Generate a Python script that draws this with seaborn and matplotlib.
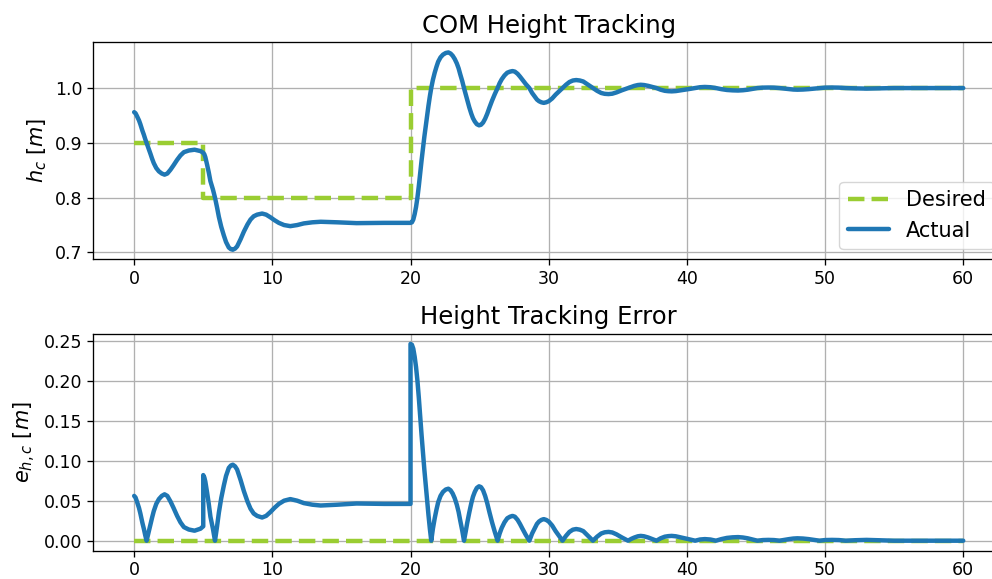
import numpy as np
import pandas as pd
import matplotlib
matplotlib.use("Agg")
import matplotlib.pyplot as plt
import seaborn as sns

# ---- data ----
time_a = [0.0, 0.1, 0.2, 0.35, 0.45, 0.6, 0.7, 0.8, 0.9, 1.05, 1.18, 1.3, 1.42, 1.6, 1.79,
          2.0, 2.2, 2.4, 2.63, 2.85, 3.11, 3.35, 3.6, 3.95, 4.37, 4.8, 5.0]
actual_a = [0.956, 0.954, 0.949, 0.941, 0.934, 0.922, 0.915, 0.907, 0.900, 0.889, 0.880, 0.871,
            0.863, 0.854, 0.848, 0.844, 0.842, 0.844, 0.851, 0.859, 0.869, 0.877, 0.883, 0.886,
            0.8875, 0.885, 0.882]

time_b = [5.0, 5.08, 5.15, 5.28, 5.4, 5.52, 5.7, 5.85, 6.0, 6.13, 6.3, 6.49, 6.65, 6.85, 7.0,
          7.14, 7.3, 7.45, 7.7, 7.94, 8.2, 8.42, 8.65, 8.9, 9.26, 9.55, 9.87, 10.15, 10.47,
          10.85, 11.3, 11.8, 12.28, 12.9, 13.5, 14.7, 16.1, 18.1, 20.0]
actual_b = [0.882, 0.879, 0.874, 0.860, 0.846, 0.830, 0.815, 0.800, 0.782, 0.765, 0.747, 0.731,
            0.719, 0.709, 0.706, 0.705, 0.707, 0.711, 0.724, 0.738, 0.751, 0.760, 0.766, 0.769,
            0.771, 0.769, 0.764, 0.759, 0.754, 0.750, 0.748, 0.750, 0.753, 0.755, 0.756, 0.755,
            0.7535, 0.754, 0.754]

time_c = [20.0, 20.1, 20.2, 20.3, 20.4, 20.5, 20.6, 20.7, 20.8, 20.9, 21.0, 21.1, 21.2, 21.3,
          21.4, 21.5, 21.62, 21.75, 21.88, 22.0, 22.17, 22.35, 22.55, 22.74, 22.9, 23.05, 23.2,
          23.35, 23.48, 23.6, 23.74, 23.87, 24.0, 24.1, 24.25, 24.4, 24.52, 24.65, 24.8, 24.96,
          25.1, 25.25, 25.4, 25.55, 25.72, 25.9, 26.1, 26.3, 26.45, 26.6, 26.8, 27.0, 27.2,
          27.38, 27.55, 27.75, 27.92, 28.1, 28.35, 28.6, 28.8, 29.0, 29.15, 29.3, 29.47, 29.64,
          29.82, 30.0, 30.25, 30.5, 30.75, 31.0, 31.25, 31.5, 31.75, 31.99, 32.25, 32.5, 32.85,
          33.2, 33.5, 33.8, 34.05, 34.33, 34.6, 34.9, 35.3, 35.74, 36.0, 36.2, 36.45, 36.66,
          36.9, 37.2, 37.5, 37.8, 38.1, 38.4, 38.65, 38.9, 39.2, 39.6, 40.1, 40.6, 40.95, 41.3,
          41.7, 42.1, 42.5, 42.9, 43.3, 43.7, 44.05, 44.4, 44.75, 45.1, 45.5, 45.9, 46.3, 46.7,
          47.05, 47.4, 47.7, 48.0, 48.4, 48.8, 49.2, 49.6, 50.0, 50.5, 51.0, 51.5, 52.2, 53.0,
          54.0, 55.0, 57.0, 60.0]
actual_c = [0.754, 0.755, 0.760, 0.770, 0.783, 0.800, 0.821, 0.845, 0.868, 0.890, 0.911, 0.930,
            0.950, 0.968, 0.985, 1.000, 1.015, 1.028, 1.039, 1.048, 1.056, 1.061, 1.064, 1.065,
            1.063, 1.059, 1.053, 1.045, 1.036, 1.025, 1.013, 1.000, 0.988, 0.978, 0.965, 0.953,
            0.945, 0.939, 0.934, 0.932, 0.933, 0.937, 0.944, 0.953, 0.965, 0.977, 0.989, 1.000,
            1.009, 1.016, 1.023, 1.028, 1.030, 1.031, 1.030, 1.026, 1.021, 1.015, 1.007, 1.000,
            0.991, 0.984, 0.979, 0.976, 0.974, 0.973, 0.974, 0.976, 0.981, 0.988, 0.994, 1.000,
            1.006, 1.011, 1.0138, 1.0146, 1.0138, 1.012, 1.006, 1.000, 0.995, 0.991, 0.9895, 0.989,
            0.9897, 0.992, 0.996, 1.000, 1.0025, 1.004, 1.0055, 1.006, 1.0055, 1.004, 1.002, 1.000,
            0.997, 0.995, 0.9943, 0.994, 0.9945, 0.996, 0.998, 1.000, 1.0015, 1.002, 1.0015, 1.000,
            0.998, 0.9965, 0.9958, 0.9955, 0.996, 0.997, 0.9985, 1.000, 1.0008, 1.001, 1.0008,
            1.000, 0.999, 0.998, 0.9973, 0.997, 0.9973, 0.998, 0.999, 1.000, 1.0008, 1.001, 1.0008,
            1.000, 0.9994, 0.999, 0.9995, 1.000, 1.000, 1.000]

desired_levels = [0.9, 0.8, 1.0]   # commanded height on each phase

time = time_a + time_b + time_c
actual = actual_a + actual_b + actual_c
desired = ([desired_levels[0]] * len(time_a) + [desired_levels[1]] * len(time_b)
           + [desired_levels[2]] * len(time_c))

df = pd.DataFrame({"t": time, "desired": desired, "actual": actual})
df["err"] = (df["actual"] - df["desired"]).abs()
df["err_des"] = 0.0

GREEN = "#9acd32"
BLUE = "#1f77b4"

plt.rcParams.update({
    "font.family": ["DejaVu Sans"],
    "axes.linewidth": 0.95,
    "xtick.major.width": 0.95,
    "ytick.major.width": 0.95,
    "xtick.major.size": 4.1,
    "ytick.major.size": 4.1,
    "xtick.labelsize": 12.5,
    "ytick.labelsize": 12.5,
    "lines.solid_capstyle": "round",
    "lines.solid_joinstyle": "round",
})

fig = plt.figure(figsize=(9.92, 5.79), dpi=100)
W, H = 992.0, 579.0
ax1 = fig.add_axes([92.7 / W, (H - 259.3) / H, 912 / W, 217 / H])
ax2 = fig.add_axes([92.7 / W, (H - 550.7) / H, 912 / W, 216.7 / H])

lw = 3.2
sns.lineplot(data=df, x="t", y="desired", ax=ax1, sort=False, estimator=None,
             color=GREEN, linewidth=lw, linestyle="--", label="Desired")
sns.lineplot(data=df, x="t", y="actual", ax=ax1, sort=False, estimator=None,
             color=BLUE, linewidth=lw, label="Actual")

sns.lineplot(data=df, x="t", y="err_des", ax=ax2, sort=False, estimator=None,
             color=GREEN, linewidth=lw, linestyle="--")
sns.lineplot(data=df, x="t", y="err", ax=ax2, sort=False, estimator=None,
             color=BLUE, linewidth=lw)

for ax in (ax1, ax2):
    ax.set_xlim(-3, 63)
    ax.set_xticks([0, 10, 20, 30, 40, 50, 60])
    ax.grid(True, color="#b0b0b0", linewidth=0.95)
    ax.set_axisbelow(True)
    ax.set_xlabel("")
    for s in ax.spines.values():
        s.set_color("black")

ax1.set_ylim(0.6875, 1.0835)
ax1.set_yticks([0.7, 0.8, 0.9, 1.0])
ax1.set_title("COM Height Tracking", fontsize=17.5, pad=7)
ax1.set_ylabel("$h_c$ [$m$]", fontsize=15)
leg = ax1.legend(loc="lower right", fontsize=15, framealpha=0.8, handlelength=2.0)

ax2.set_ylim(-0.0125, 0.2584)
ax2.set_yticks([0.0, 0.05, 0.10, 0.15, 0.20, 0.25])
ax2.set_yticklabels(["0.00", "0.05", "0.10", "0.15", "0.20", "0.25"])
ax2.set_title("Height Tracking Error", fontsize=17.5, pad=7)
ax2.set_ylabel("$e_{h,c}$ [$m$]", fontsize=15)

fig.savefig("out.png", dpi=100)
